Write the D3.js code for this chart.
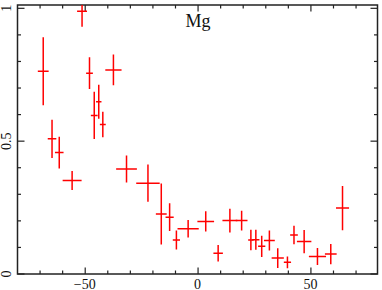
<!DOCTYPE html>
<html>
<head>
<meta charset="utf-8">
<script src="https://cdn.jsdelivr.net/npm/d3@7"></script>
<style>
  body { margin: 0; background: #fff; }
  text { font-family: "Liberation Serif", "DejaVu Serif", serif; }
</style>
</head>
<body>
<div class="chart"></div>
<script>
// position (x), half-width of bin, ratio value, error
const xVals = [-68.6, -51.4, -48.1, -37.5, -44.0, -46.0, -42.2, -64.7, -61.5, -55.8,
               -31.7, -22.2, -16.3, -12.6, -9.6, -4.4, 3.4, 8.9, 14.1, 19.3,
               23.4, 25.6, 28.2, 31.6, 35.3, 39.6, 42.5, 47.0, 52.9, 58.8, 64.0]
const xErr = [2.4, 2.2, 1.5, 3.6, 1.2, 1.5, 1.3, 1.9, 1.9, 4.2,
              4.6, 5.2, 2.4, 1.8, 1.6, 4.7, 3.7, 2.1, 3.3, 2.6,
              1.2, 1.6, 1.6, 2.4, 2.7, 1.6, 1.7, 3.2, 3.8, 2.6, 2.9]
const yVals = [0.763, 0.989, 0.756, 0.768, 0.648, 0.597, 0.563, 0.509, 0.457, 0.352,
               0.395, 0.342, 0.226, 0.214, 0.128, 0.170, 0.198, 0.078, 0.201, 0.201,
               0.128, 0.129, 0.104, 0.126, 0.060, 0.044, 0.147, 0.122, 0.066, 0.075, 0.248]
const yErr = [0.128, 0.058, 0.060, 0.058, 0.064, 0.089, 0.048, 0.072, 0.060, 0.036,
              0.051, 0.070, 0.115, 0.052, 0.036, 0.033, 0.038, 0.031, 0.045, 0.037,
              0.039, 0.038, 0.040, 0.038, 0.037, 0.022, 0.035, 0.044, 0.032, 0.038, 0.083]

const xMajor = [-50, 0, 50]
const xMinor = d3.range(-70, 80, 10)
const yMajor = [0, 0.5, 1]
const yMinor = d3.range(0.1, 1.01, 0.1)
const title = "Mg"

const data = xVals.map((x, i) => ({x: x, xe: xErr[i], y: yVals[i], ye: yErr[i]}))

const margin = ({top: 5, right: 4.5, bottom: 16, left: 17.5})
const width = 382 - margin.left - margin.right
const height = 290 - margin.top - margin.bottom

var svg = d3.select(".chart")
    .append("svg")
    .attr("width", 382)
    .attr("height", 290)
    .append("g")
    .attr("transform", "translate(" + margin.left + "," + margin.top + ")")

var xScale = d3.scaleLinear()
    .domain([-80, 79.5])
    .range([0, width])

var yScale = d3.scaleLinear()
    .domain([0, 1.0125])
    .range([height, 0])

svg.append("clipPath")
    .attr("id", "clip")
    .append("rect")
    .attr("width", width)
    .attr("height", height)

// mirrored ticks, all pointing inward
function ticks(scale, values, len, side) {
    var g = svg.append("g")
        .attr("stroke", "#222")
        .attr("stroke-width", 1.2)
    g.selectAll("line")
        .data(values)
        .join("line")
        .attr("x1", d => side == "x" ? scale(d) : 0)
        .attr("x2", d => side == "x" ? scale(d) : len)
        .attr("y1", d => side == "x" ? height : scale(d))
        .attr("y2", d => side == "x" ? height - len : scale(d))
    g.selectAll(".mirror")
        .data(values)
        .join("line")
        .attr("class", "mirror")
        .attr("x1", d => side == "x" ? scale(d) : width)
        .attr("x2", d => side == "x" ? scale(d) : width - len)
        .attr("y1", d => side == "x" ? 0 : scale(d))
        .attr("y2", d => side == "x" ? len : scale(d))
}

ticks(xScale, xMinor.filter(d => xMajor.indexOf(d) < 0), 3.5, "x")
ticks(xScale, xMajor, 6.5, "x")
ticks(yScale, yMinor.filter(d => Math.abs(d - 0.5) > 0.01 && d < 0.99), 3.5, "y")
ticks(yScale, yMajor, 7, "y")

svg.append("rect")
    .attr("width", width)
    .attr("height", height)
    .attr("fill", "none")
    .attr("stroke", "#222")
    .attr("stroke-width", 1.5)

// tick labels
svg.append("g")
    .selectAll("text")
    .data(xMajor)
    .join("text")
    .attr("x", d => xScale(d) - 0.5)
    .attr("y", height + 15)
    .attr("text-anchor", "middle")
    .attr("font-size", 14)
    .attr("fill", "#111")
    .text(d => d < 0 ? "\u2212" + Math.abs(d) : d)

svg.append("g")
    .selectAll("text")
    .data(yMajor)
    .join("text")
    .attr("transform", d => `translate(${-7}, ${yScale(d)}) rotate(-90)`)
    .attr("text-anchor", "middle")
    .attr("font-size", 14)
    .attr("fill", "#111")
    .text(d => d)

svg.append("text")
    .attr("x", xScale(0))
    .attr("y", 22)
    .attr("text-anchor", "middle")
    .attr("font-size", 18)
    .attr("fill", "#111")
    .text(title)

// error crosses
var crosses = svg.append("g")
    .attr("clip-path", "url(#clip)")
    .attr("stroke", "#ff0000")
    .attr("stroke-width", 1.5)

crosses.selectAll(".h")
    .data(data)
    .join("line")
    .attr("class", "h")
    .attr("x1", d => xScale(d.x - d.xe))
    .attr("x2", d => xScale(d.x + d.xe))
    .attr("y1", d => yScale(d.y))
    .attr("y2", d => yScale(d.y))

crosses.selectAll(".v")
    .data(data)
    .join("line")
    .attr("class", "v")
    .attr("x1", d => xScale(d.x))
    .attr("x2", d => xScale(d.x))
    .attr("y1", d => yScale(d.y - d.ye))
    .attr("y2", d => yScale(d.y + d.ye))
</script>
</body>
</html>
